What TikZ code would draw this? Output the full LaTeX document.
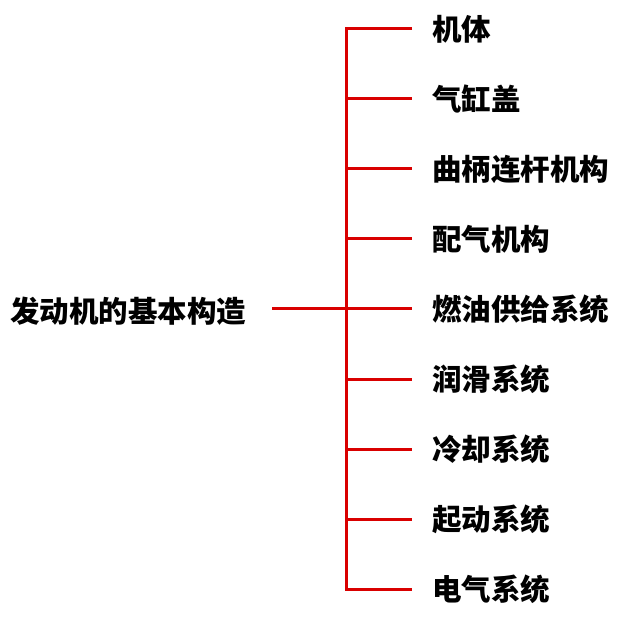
\documentclass[tikz,border=0pt]{standalone}
\usepackage{fontspec}
\newfontfamily\cjk{Noto Sans CJK SC}
\tikzset{
  branch/.style={draw=red!85!black, line width=3pt},
  part/.style={anchor=west, inner sep=0pt, font=\cjk\bfseries\fontsize{29.5}{29.5}\selectfont},
}
\begin{document}
\begin{tikzpicture}[x=1pt, y=-1pt]
        \useasboundingbox (0,0) rectangle (640,620);

        % Root label
        \node[part] (root) at (10,311) {发动机的基本构造};

        % Parts and junctions on the spine
        \foreach \txt [count=\i] in {机体, 气缸盖, 曲柄连杆机构, 配气机构, 燃油供给系统, 润滑系统, 冷却系统, 起动系统, 电气系统} {
            \coordinate (j\i) at (346, 29+70*\i-70);
            \node[part] (b\i) at (432, 29+70*\i-70) {\txt};
        }

        % Spine with first and last branch
        \draw[branch] ([xshift=-20pt]b1.west) -- (j1) -- (j9) -- ([xshift=-20pt]b9.west);
        \foreach \i in {2,...,8}
            \draw[branch] (j\i) -- ([xshift=-20pt]b\i.west);

        % Root to spine
        \draw[branch, shorten >=26pt] (j5) -- (j5 -| root.east);
    \end{tikzpicture}
\end{document}
